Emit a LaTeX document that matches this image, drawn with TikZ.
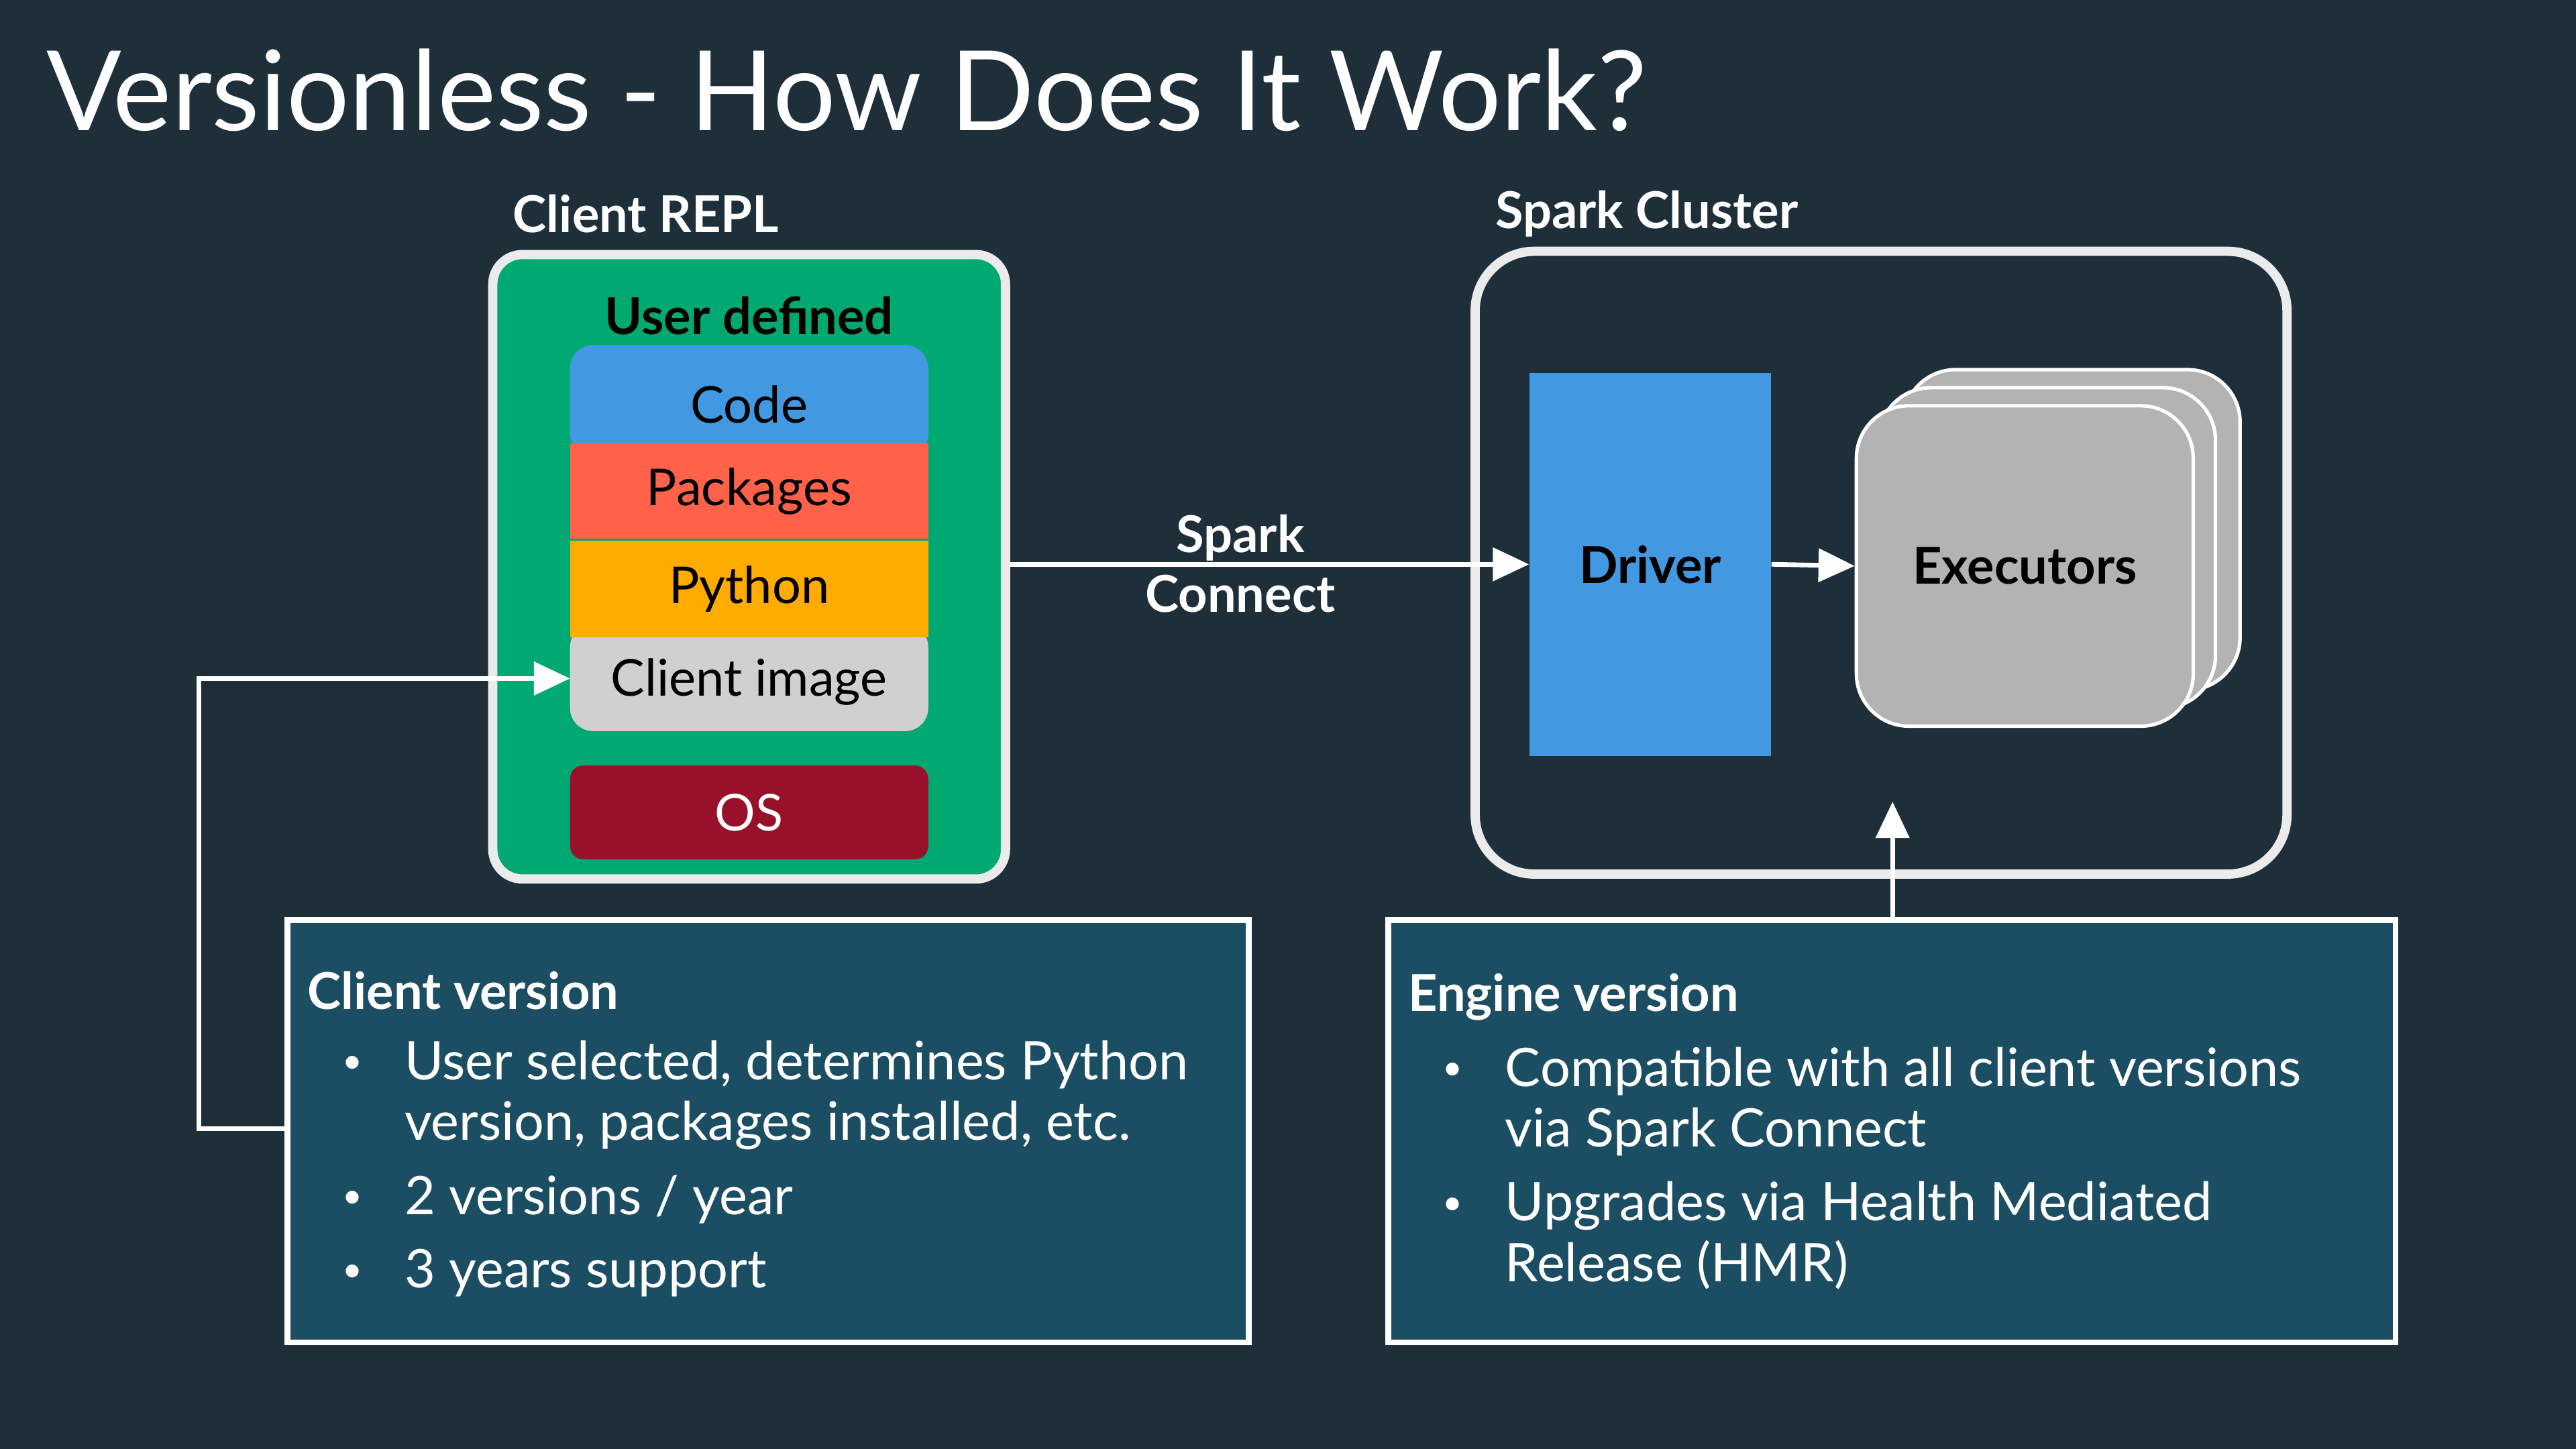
\documentclass[tikz,border=0pt]{standalone}
\usepackage{fontspec}
\setmainfont{Lato}
\usetikzlibrary{arrows.meta}
\definecolor{bg}{HTML}{1F2F3A}
\definecolor{grn}{HTML}{00A972}
\definecolor{blu}{HTML}{4299E1}
\definecolor{org}{HTML}{FF6149}
\definecolor{yel}{HTML}{FFAB00}
\definecolor{lgray}{HTML}{D0D0D0}
\definecolor{osred}{HTML}{98102A}
\definecolor{boxf}{HTML}{1C4E63}
\definecolor{exg}{HTML}{B3B3B3}
\begin{document}
\begin{tikzpicture}[x=0.025cm,y=-0.025cm,
  lay/.style={minimum width=5.45cm,inner sep=0,text=black,font=\fontsize{22}{26}\selectfont},
  ex/.style={draw=white,line width=1.5pt,fill=exg,rounded corners=0.8cm,minimum width=5.125cm,minimum height=4.875cm,inner sep=0},
  info/.style={draw=white,line width=2.5pt,fill=boxf,minimum height=6.425cm,inner sep=0},
  lbl/.style={text=white,font=\bfseries\fontsize{22}{26}\selectfont},
  arr/.style={white,line width=2pt,-{Triangle[length=0.55cm,width=0.5cm]}},
  body/.style={text=white,font=\fontsize{23}{28}\selectfont,anchor=west,inner sep=0}]
\fill[bg] (0,0) rectangle (1568,882);
\node[text=white,anchor=west,font=\fontsize{48}{58}\selectfont,inner sep=0] (title) at (28,55) {Versionless - How Does It Work?};
% client REPL
\node[lbl,anchor=west,inner sep=0] (crl) at (312,130) {Client REPL};
\node[draw=white!92!black,line width=4pt,fill=grn,rounded corners=0.45cm,minimum width=7.8cm,minimum height=9.5cm,inner sep=0] (repl) at (456,345) {};
\node[font=\bfseries\fontsize{22}{26}\selectfont,text=black,inner sep=0] (ud) at (456,192) {User defined};
\node[lay,fill=blu,rounded corners=0.35cm,minimum height=1.7cm] (code) at (456,244) {};
\node[lay,fill=org,minimum height=1.45cm] (pkg) at (456,299) {Packages};
\node[font=\fontsize{22}{26}\selectfont,text=black,inner sep=0] at (456,246) {Code};
\node[lay,fill=lgray,rounded corners=0.35cm,minimum height=1.625cm] (ci) at (456,412.5) {};
\node[lay,fill=yel,minimum height=1.475cm] (py) at (456,358.5) {Python};
\node[font=\fontsize{22}{26}\selectfont,text=black,inner sep=0] at (456,415) {Client image};
\node[lay,fill=osred,text=white,rounded corners=0.2cm,minimum height=1.425cm] (os) at (456,494.5) {OS};
% spark cluster
\node[lbl,anchor=west,inner sep=0] (scl) at (910,130) {Spark Cluster};
\node[draw=white!92!black,line width=4pt,rounded corners=0.9cm,minimum width=12.35cm,minimum height=9.475cm,inner sep=0] (cluster) at (1145,342.5) {};
\node[fill=blu,minimum width=3.675cm,minimum height=5.825cm,inner sep=0,text=black,font=\bfseries\fontsize{22}{26}\selectfont] (driver) at (1004.5,343.5) {Driver};
\node[ex] (ex3) at (1261,322.5) {};
\node[ex] (ex2) at (1246,333.5) {};
\node[ex,text=black,font=\bfseries\fontsize{22}{26}\selectfont] (ex1) at (1232.5,344.5) {Executors};
\draw[arr] (repl.east |- driver) -- (driver.west);
\node[lbl,align=center,font=\bfseries\fontsize{22}{26}\selectfont] (sc) at (755,343) {Spark\\Connect};
\draw[arr] (driver.east) -- (ex1.west);
% info boxes
\node[info,minimum width=14.625cm] (cv) at (467.5,688.5) {};
\node[info,minimum width=15.325cm] (ev) at (1151.5,688.5) {};
\node[body,font=\bfseries\fontsize{22}{26}\selectfont] (cvt) at (187,603) {Client version};
\node[body] (c1) at (246,648) {User selected, determines Python};
\node[body] (c1b) at (246,685) {version, packages installed, etc.};
\node[body] (c2) at (246,730) {2 versions / year};
\node[body] (c3) at (246,775) {3 years support};
\foreach \yy/\n in {648/ba,730/bb,775/bc} \node[body,font=\fontsize{15}{18}\selectfont] (\n) at (208,\yy) {•};
\node[body,font=\bfseries\fontsize{22}{26}\selectfont] (evt) at (857,607) {Engine version};
\node[body] (e1) at (916,652) {Compatible with all client versions};
\node[body] (e1b) at (916,689) {via Spark Connect};
\node[body] (e2) at (916,734) {Upgrades via Health Mediated};
\node[body] (e2b) at (916,770) {Release (HMR)};
\foreach \yy/\n in {652/bd,734/be} \node[body,font=\fontsize{15}{18}\selectfont] (\n) at (878,\yy) {•};
% connectors
\coordinate (up) at (1152,488);
\draw[arr] (ev.north -| up) -- (up);
\coordinate (ct) at (347,413);
\draw[arr] (cv.west |- 0,687) -- (121,687) -- (121,413) -- (ct);
\end{tikzpicture}
\end{document}
